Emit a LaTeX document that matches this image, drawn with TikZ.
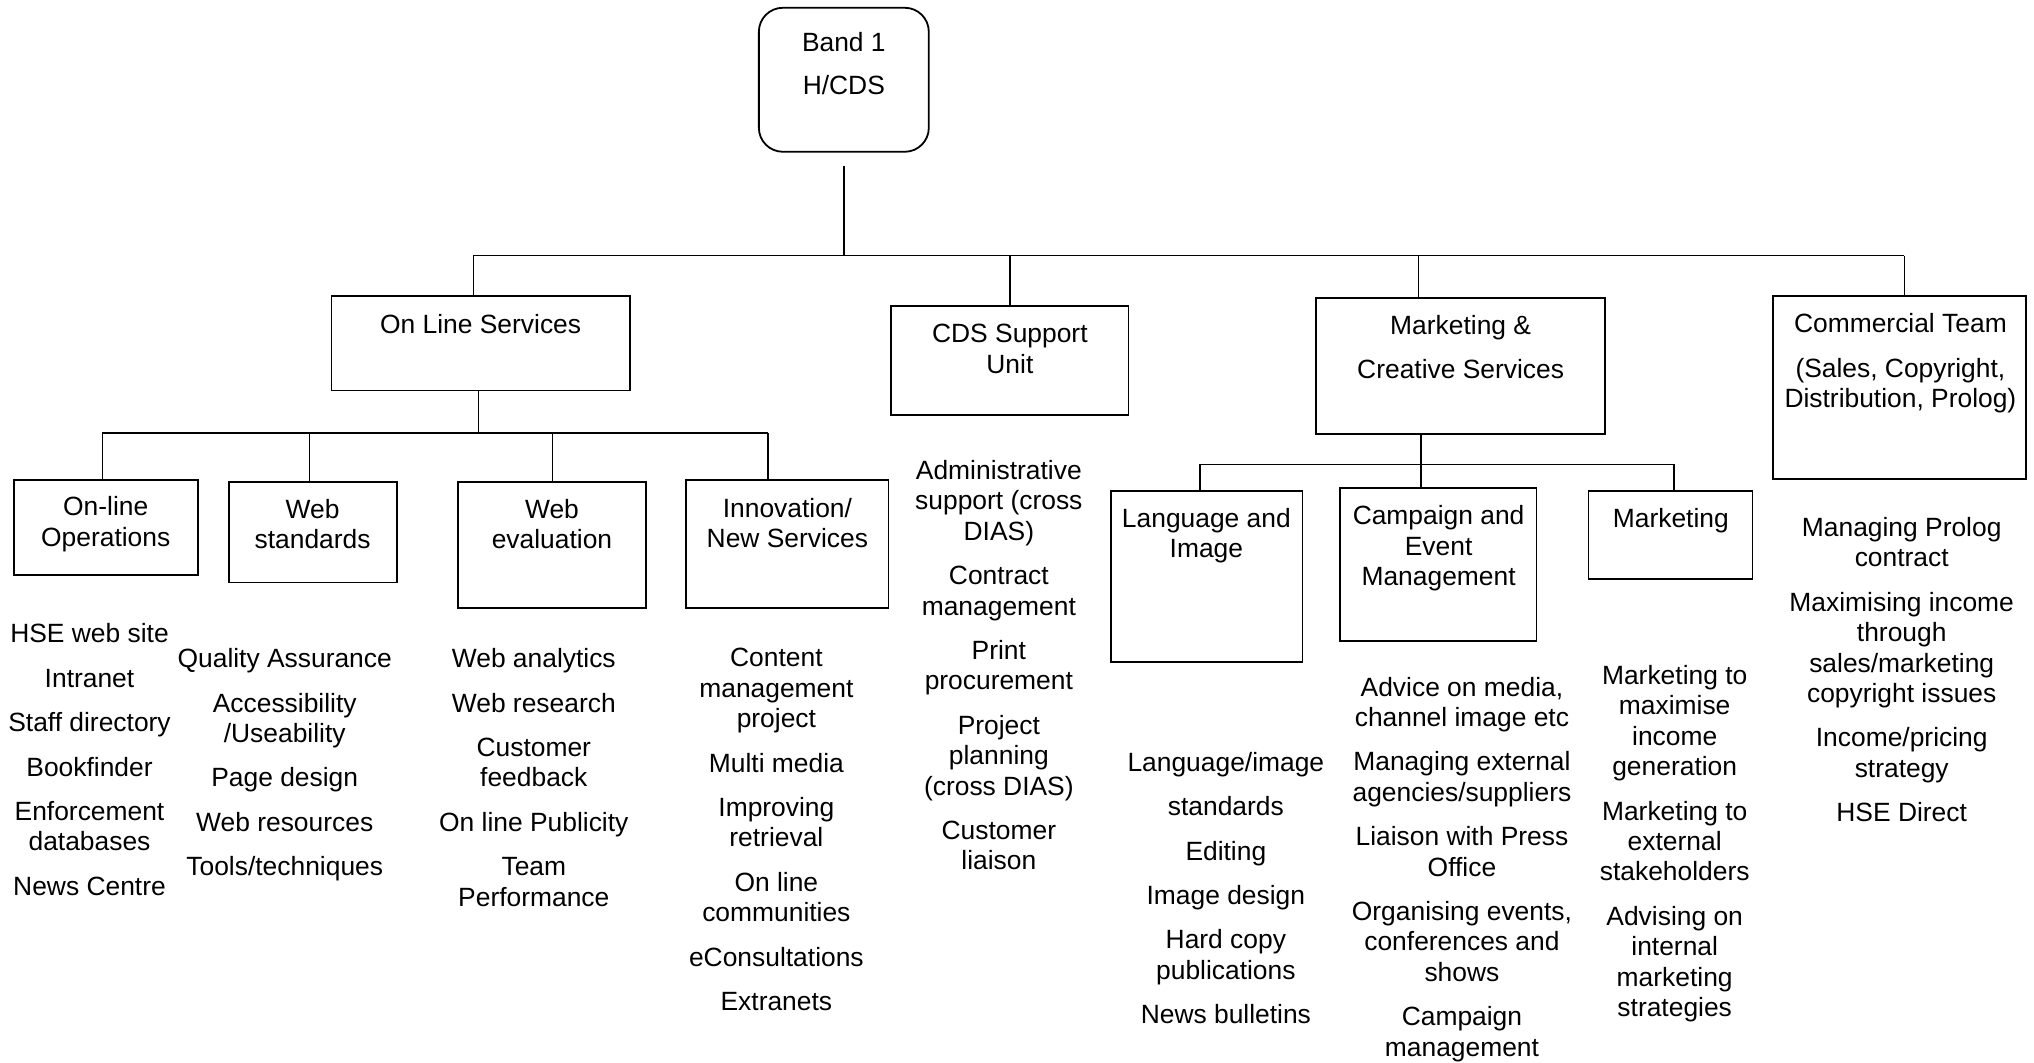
\documentclass[tikz,border=0pt]{standalone}
\usepackage{fontspec}
\setmainfont{Liberation Sans}
\usetikzlibrary{fit}
\begin{document}
\begin{tikzpicture}[x=0.6486pt, y=-0.6486pt,
  bx/.style={draw, line width=0.9pt, inner sep=0pt},
  ln/.style={line width=0.8pt},
  txt/.style={anchor=north, yshift=4.8pt, inner sep=0pt, align=center,
    font=\fontsize{13.2}{15.2}\selectfont,
    execute at begin node={\rule{0pt}{10pt}}}
]
\fill[white] (0,0) rectangle (1568,819);
\useasboundingbox (0,0) rectangle (1568,819);

% boxes
\node[bx, rounded corners=12pt, fit={(585,6) (716,117)}] (root) {};
\node[bx, fit={(255.5,228) (485.5,301)}] (ols) {};
\node[bx, fit={(687,236) (870,320)}] (cds) {};
\node[bx, fit={(1014.5,229.5) (1237,334.5)}] (mcs) {};
\node[bx, fit={(1366.5,228) (1561.5,369.5)}] (com) {};
\node[bx, fit={(10.5,370) (152.5,443)}] (ops) {};
\node[bx, fit={(176.5,371.6) (306,449)}] (wst) {};
\node[bx, fit={(353,371.6) (498,469)}] (wev) {};
\node[bx, fit={(529,370) (685,469)}] (inn) {};
\node[bx, fit={(856.5,378.3) (1004,510.3)}] (lan) {};
\node[bx, fit={(1033,376.2) (1184.5,494.3)}] (cam) {};
\node[bx, fit={(1224.5,378.8) (1351,446.3)}] (mkt) {};

% titles
\node[txt] (rootT) at (650.5,32) {Band 1\\[6.2pt]H/CDS};
\node[txt] (olsT) at (370.5,249) {On Line Services};
\node[txt] (cdsT) at (778.5,257) {CDS Support\\Unit};
\node[txt] (mcsT) at (1126,250) {Marketing \&\\[7pt]Creative Services};
\node[txt] (comT) at (1465,249) {Commercial Team\\[7pt](Sales, Copyright,\\Distribution, Prolog)};
\node[txt] (opsT) at (81.5,390) {On-line\\Operations};
\node[txt] (wstT) at (241,392) {Web\\standards};
\node[txt] (wevT) at (425.5,392) {Web\\evaluation};
\node[txt] (innT) at (607,391) {Innovation/\\New Services};
\node[txt] (lanT) at (930,399) {Language and\\Image};
\node[txt] (camT) at (1109,397) {Campaign and\\Event\\Management};
\node[txt] (mktT) at (1288,398) {Marketing};

% lists
\node[txt] (c1) at (69,488) {HSE web site\\[7pt]Intranet\\[7pt]Staff directory\\[7pt]Bookfinder\\[7pt]Enforcement\\databases\\[7pt]News Centre};
\node[txt] (c2) at (219.5,507) {Quality Assurance\\[7pt]Accessibility\\/Useability\\[7pt]Page design\\[7pt]Web resources\\[7pt]Tools/techniques};
\node[txt] (c3) at (411.5,507) {Web analytics\\[7pt]Web research\\[7pt]Customer\\feedback\\[7pt]On line Publicity\\[7pt]Team\\Performance};
\node[txt] (c4) at (598.5,507) {Content\\management\\project\\[7pt]Multi media\\[7pt]Improving\\retrieval\\[7pt]On line\\communities\\[7pt]eConsultations\\[7pt]Extranets};
\node[txt] (c5) at (770,362) {Administrative\\support (cross\\DIAS)\\[7pt]Contract\\management\\[7pt]Print\\procurement\\[7pt]Project\\planning\\(cross DIAS)\\[7pt]Customer\\liaison};
\node[txt] (c6) at (945,587) {Language/image\\[7pt]standards\\[7pt]Editing\\[7pt]Image design\\[7pt]Hard copy\\publications\\[7pt]News bulletins};
\node[txt] (c7) at (1127,529) {Advice on media,\\channel image etc\\[7pt]Managing external\\agencies/suppliers\\[7pt]Liaison with Press\\Office\\[7pt]Organising events,\\conferences and\\shows\\[7pt]Campaign\\management};
\node[txt] (c8) at (1291,520) {Marketing to\\maximise\\income\\generation\\[7pt]Marketing to\\external\\stakeholders\\[7pt]Advising on\\internal\\marketing\\strategies};
\node[txt] (c9) at (1466,406) {Managing Prolog\\contract\\[7pt]Maximising income\\through\\sales/marketing\\copyright issues\\[7pt]Income/pricing\\strategy\\[7pt]HSE Direct};

% top level connectors
\coordinate (bL) at (365,197);
\coordinate (bR) at (1468,197);
\coordinate (bM) at (1093.5,197);
\draw[ln] ([yshift=-6.5pt]root.south) -- (root.south |- bL);
\draw[ln] (bL) -- (bR);
\draw[ln] (bL) -- (bL |- ols.north);
\draw[ln] (cds.north |- bL) -- (cds.north);
\draw[ln] (bM) -- (bM |- mcs.north);
\draw[ln] (bR) -- (bR |- com.north);

% on line services
\coordinate (sL) at (79,334);
\coordinate (sR) at (592,334);
\coordinate (sJ) at (369,334);
\coordinate (s2) at (238.5,334);
\coordinate (s3) at (426,334);
\draw[ln] (sJ |- ols.south) -- (sJ);
\draw[ln] (sL) -- (sR);
\draw[ln] (sL) -- (sL |- ops.north);
\draw[ln] (s2) -- (s2 |- wst.north);
\draw[ln] (s3) -- (s3 |- wev.north);
\draw[ln] (sR) -- (sR |- inn.north);

% marketing & creative services
\coordinate (mL) at (925,358);
\coordinate (mR) at (1290.5,358);
\coordinate (mJ) at (1095.5,358);
\draw[ln] (mJ |- mcs.south) -- (mJ |- cam.north);
\draw[ln] (mL) -- (mR);
\draw[ln] (mL) -- (mL |- lan.north);
\draw[ln] (mR) -- (mR |- mkt.north);
\end{tikzpicture}
\end{document}
